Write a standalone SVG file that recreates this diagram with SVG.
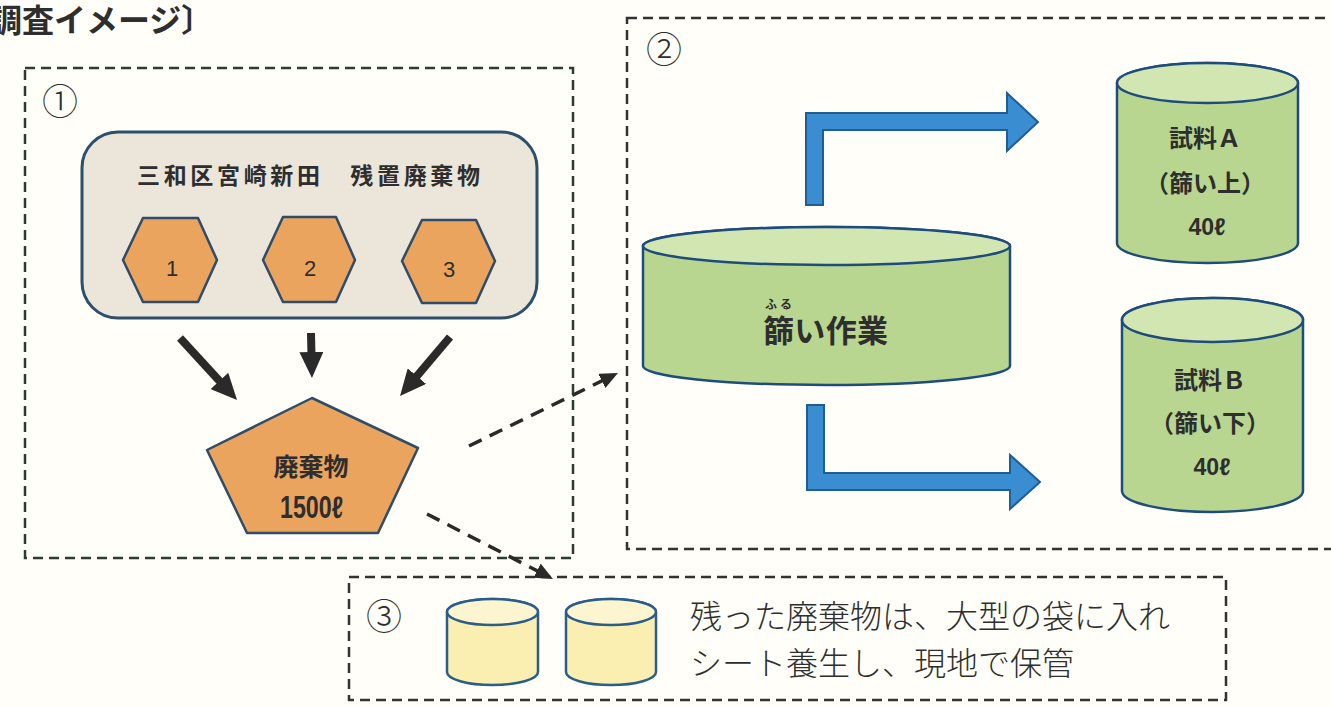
<svg xmlns="http://www.w3.org/2000/svg" width="1331" height="707" viewBox="0 0 1331 707">
<defs>
<style>
.jp{font-family:"Noto Sans CJK JP","Noto Sans CJK SC",sans-serif;fill:#2e2e2e}
.b{font-weight:700}
.num{font-family:"Liberation Sans","DejaVu Sans",sans-serif;fill:#2e2e2e}
.circ{font-family:"Noto Sans CJK JP",sans-serif;font-weight:300;fill:#2e2e2e}
.dash{fill:none;stroke-width:2.5;stroke-dasharray:10 6}
.orange{fill:#eba45e;stroke:#2f4d68;stroke-width:2.5;stroke-linejoin:round}
.green{fill:#b8d690;stroke:#1e4c7c;stroke-width:2.5}
.gtop{fill:#d2e6b2;stroke:#1e4c7c;stroke-width:2.5}
.yellow{fill:#fbeeb1;stroke:#2a5d8a;stroke-width:2.5}
.ytop{fill:#fdf5cf;stroke:#2a5d8a;stroke-width:2.5}
.blk{stroke:#2a2a2a;stroke-width:8;fill:none}
.dsh{stroke:#2a2a2a;stroke-width:3.5;stroke-dasharray:14 9;fill:none}
.blue{fill:#3a8dd0;stroke:#1f5d96;stroke-width:2;stroke-linejoin:miter}
</style>
<marker id="bigHead" viewBox="0 0 26 24" refX="14" refY="12" markerWidth="26" markerHeight="24" markerUnits="userSpaceOnUse" orient="auto">
<path d="M0,0 L26,12 L0,24 z" fill="#2a2a2a"/>
</marker>
<marker id="smHead" viewBox="0 0 18 16" refX="10" refY="8" markerWidth="18" markerHeight="16" markerUnits="userSpaceOnUse" orient="auto">
<path d="M0,0 L18,8 L0,16 z" fill="#2a2a2a"/>
</marker>
</defs>
<rect width="1331" height="707" fill="#fffef8"/>

<text class="jp b" x="-10" y="32" font-size="32">調査イメージ〕</text>

<g id="box1">
<rect class="dash" x="25" y="68" width="548" height="490" stroke="#2c3d2f"/>
<text class="circ" x="60" y="115" font-size="36" text-anchor="middle">①</text>
</g>
<g id="box2">
<rect class="dash" x="627" y="18" width="720" height="531" stroke="#333"/>
<text class="circ" x="664" y="63" font-size="36" text-anchor="middle">②</text>
</g>
<g id="box3">
<rect class="dash" x="349" y="577" width="877" height="123" stroke="#333"/>
<text class="circ" x="384" y="630" font-size="36" text-anchor="middle">③</text>
</g>

<g id="source">
<rect x="82" y="132" width="455" height="186" rx="36" ry="36" fill="#ebe5da" stroke="#2d4f6e" stroke-width="3"/>
<text class="jp b" x="137" y="184" font-size="23" textLength="343" lengthAdjust="spacing">三和区宮崎新田　残置廃棄物</text>
</g>
<g id="hex1">
<polygon class="orange" points="123,260 143,218 198,218 217,260 198,302 143,302"/>
<text class="num" x="172" y="276" font-size="22" text-anchor="middle">1</text>
</g>
<g id="hex2">
<polygon class="orange" points="263,260 283,217 336,217 355,260 336,302 283,302"/>
<text class="num" x="310" y="276" font-size="22" text-anchor="middle">2</text>
</g>
<g id="hex3">
<polygon class="orange" points="402,261 422,220 476,220 495,261 476,303 422,303"/>
<text class="num" x="449" y="277" font-size="22" text-anchor="middle">3</text>
</g>

<g id="waste">
<polygon class="orange" points="312,398 418,448 378,533 247,533 207,450"/>
<text class="jp b" x="311" y="476" font-size="25" text-anchor="middle">廃棄物</text>
<text class="num b" x="280" y="518" font-size="31" textLength="63" lengthAdjust="spacingAndGlyphs">1500ℓ</text>
</g>

<g id="sieve">
<path class="green" d="M643,246 V366 A183.5,19 0 0 0 1010,366 V246 A183.5,19 0 0 0 643,246 Z"/>
<ellipse class="gtop" cx="826.5" cy="246" rx="183.5" ry="19"/>
<text class="jp b" x="765" y="309" font-size="12" textLength="27" lengthAdjust="spacing">ふる</text>
<text class="jp b" x="763" y="342" font-size="31" textLength="125" lengthAdjust="spacing">篩い作業</text>
</g>

<g id="sampleA">
<path class="green" d="M1117,83 V243 A90.5,20 0 0 0 1298,243 V83 A90.5,20 0 0 0 1117,83 Z"/>
<ellipse class="gtop" cx="1207.5" cy="83" rx="90.5" ry="20"/>
<text class="jp b" x="1205" y="147" font-size="24" text-anchor="middle">試料Ａ</text>
<text class="jp b" x="1205" y="192" font-size="24" text-anchor="middle">（篩い上）</text>
<text class="num b" x="1207" y="235" font-size="24" textLength="37" lengthAdjust="spacingAndGlyphs" text-anchor="middle">40ℓ</text>
</g>

<g id="sampleB">
<path class="green" d="M1122,320 V491 A90.5,21 0 0 0 1303,491 V320 A90.5,22 0 0 0 1122,320 Z"/>
<ellipse class="gtop" cx="1212.5" cy="320" rx="90.5" ry="22"/>
<text class="jp b" x="1210" y="389" font-size="24" text-anchor="middle">試料Ｂ</text>
<text class="jp b" x="1210" y="432" font-size="24" text-anchor="middle">（篩い下）</text>
<text class="num b" x="1212" y="475" font-size="24" textLength="37" lengthAdjust="spacingAndGlyphs" text-anchor="middle">40ℓ</text>
</g>

<g id="storage">
<path class="yellow" d="M447,612 V672 A45.5,13 0 0 0 538,672 V612 A45.5,13 0 0 0 447,612 Z"/>
<ellipse class="ytop" cx="492.5" cy="612" rx="45.5" ry="13"/>
<path class="yellow" d="M566,612 V672 A45,13 0 0 0 656,672 V612 A45,13 0 0 0 566,612 Z"/>
<ellipse class="ytop" cx="611" cy="612" rx="45" ry="13"/>
<text class="jp" x="690" y="628" font-size="32" font-weight="300">残った廃棄物は、大型の袋に入れ</text>
<text class="jp" x="690" y="675" font-size="32" font-weight="300">シート養生し、現地で保管</text>
</g>

<g id="connectors">
<line class="blk" x1="180" y1="338" x2="228.9" y2="391.2" marker-end="url(#bigHead)"/>
<line class="blk" x1="311" y1="333" x2="311.7" y2="366" marker-end="url(#bigHead)"/>
<line class="blk" x1="450" y1="337" x2="407.8" y2="386.8" marker-end="url(#bigHead)"/>
<line class="dsh" x1="469" y1="446" x2="610.8" y2="376.5" marker-end="url(#smHead)"/>
<line class="dsh" x1="427" y1="514" x2="545.9" y2="575.3" marker-end="url(#smHead)"/>
<polygon class="blue" points="806,205 806,113 1007,113 1007,93 1038,122 1007,151 1007,130 823,130 823,205"/>
<polygon class="blue" points="807,405 824,405 824,473 1010,473 1010,455 1040,482 1010,509 1010,490 807,490"/>
</g>
</svg>
